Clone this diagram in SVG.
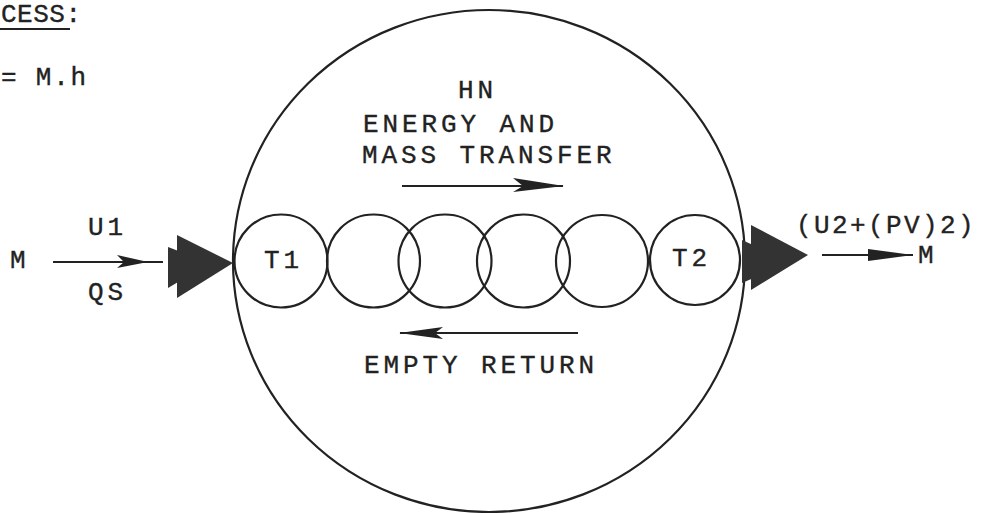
<svg xmlns="http://www.w3.org/2000/svg" width="982" height="513" viewBox="0 0 982 513">
<style>
.t{font-family:"Liberation Mono","DejaVu Sans Mono",monospace;font-size:26px;letter-spacing:3.9px;fill:#222;stroke:#222;stroke-width:0.35px}
.ln{stroke:#222;stroke-width:2;fill:none}
.c{stroke:#222;stroke-width:2.2;fill:none}
.ah{fill:#222;stroke:none}
.big{fill:#333;stroke:none}
</style>
<rect width="982" height="513" fill="#fff"/>
<g id="header">
<text class="t" x="1" y="22" style="letter-spacing:0.5px">CESS:</text>
<line class="ln" x1="0" y1="29" x2="70" y2="29"/>
<text class="t" x="1" y="85" style="letter-spacing:1.8px">= M.h</text>
</g>
<g id="process">
<ellipse class="c" cx="489" cy="261" rx="256" ry="251"/>
</g>
<g id="t1">
<circle class="c" cx="281" cy="261" r="46.5"/>
<text class="t" x="264" y="268">T1</text>
</g>
<g id="c2"><circle class="c" cx="373.5" cy="261" r="46.5"/></g>
<g id="c3"><circle class="c" cx="445" cy="261" r="46.5"/></g>
<g id="c4"><circle class="c" cx="523.5" cy="261" r="46.5"/></g>
<g id="c5"><circle class="c" cx="602" cy="261" r="46"/></g>
<g id="t2">
<circle class="c" cx="695" cy="260" r="45"/>
<text class="t" x="672" y="266">T2</text>
</g>
<g id="labels">
<text class="t" x="458" y="98">HN</text>
<text class="t" x="363" y="132">ENERGY AND</text>
<text class="t" x="362" y="163">MASS TRANSFER</text>
<text class="t" x="364" y="373">EMPTY RETURN</text>
<text class="t" x="10" y="268">M</text>
<text class="t" x="88" y="235">U1</text>
<text class="t" x="88" y="300">QS</text>
<text class="t" x="796" y="233" style="letter-spacing:2.4px">(U2+(PV)2)</text>
<text class="t" x="918" y="263">M</text>
</g>
<g id="connectors">
<line class="ln" x1="53" y1="262" x2="163" y2="262"/>
<path class="ah" d="M117,255 L148,262 L117,268 L124,262 Z"/>
<polygon class="big" points="168,247 210,263 168,288"/>
<polygon class="big" points="177,235 233,263 177,298"/>
<polygon class="big" points="742,240 790,262 742,283"/>
<polygon class="big" points="751,225 808,255 751,290"/>
<line class="ln" x1="822" y1="255" x2="913" y2="255"/>
<path class="ah" d="M868,249 L913,255 L868,261 Z"/>
<line class="ln" x1="402" y1="186" x2="563" y2="186"/>
<path class="ah" d="M513,178 L564,186 L513,192 L523,186 Z"/>
<line class="ln" x1="400" y1="333" x2="578" y2="333"/>
<path class="ah" d="M443,327 L399,333 L443,339 L435,333 Z"/>
</g>
</svg>
